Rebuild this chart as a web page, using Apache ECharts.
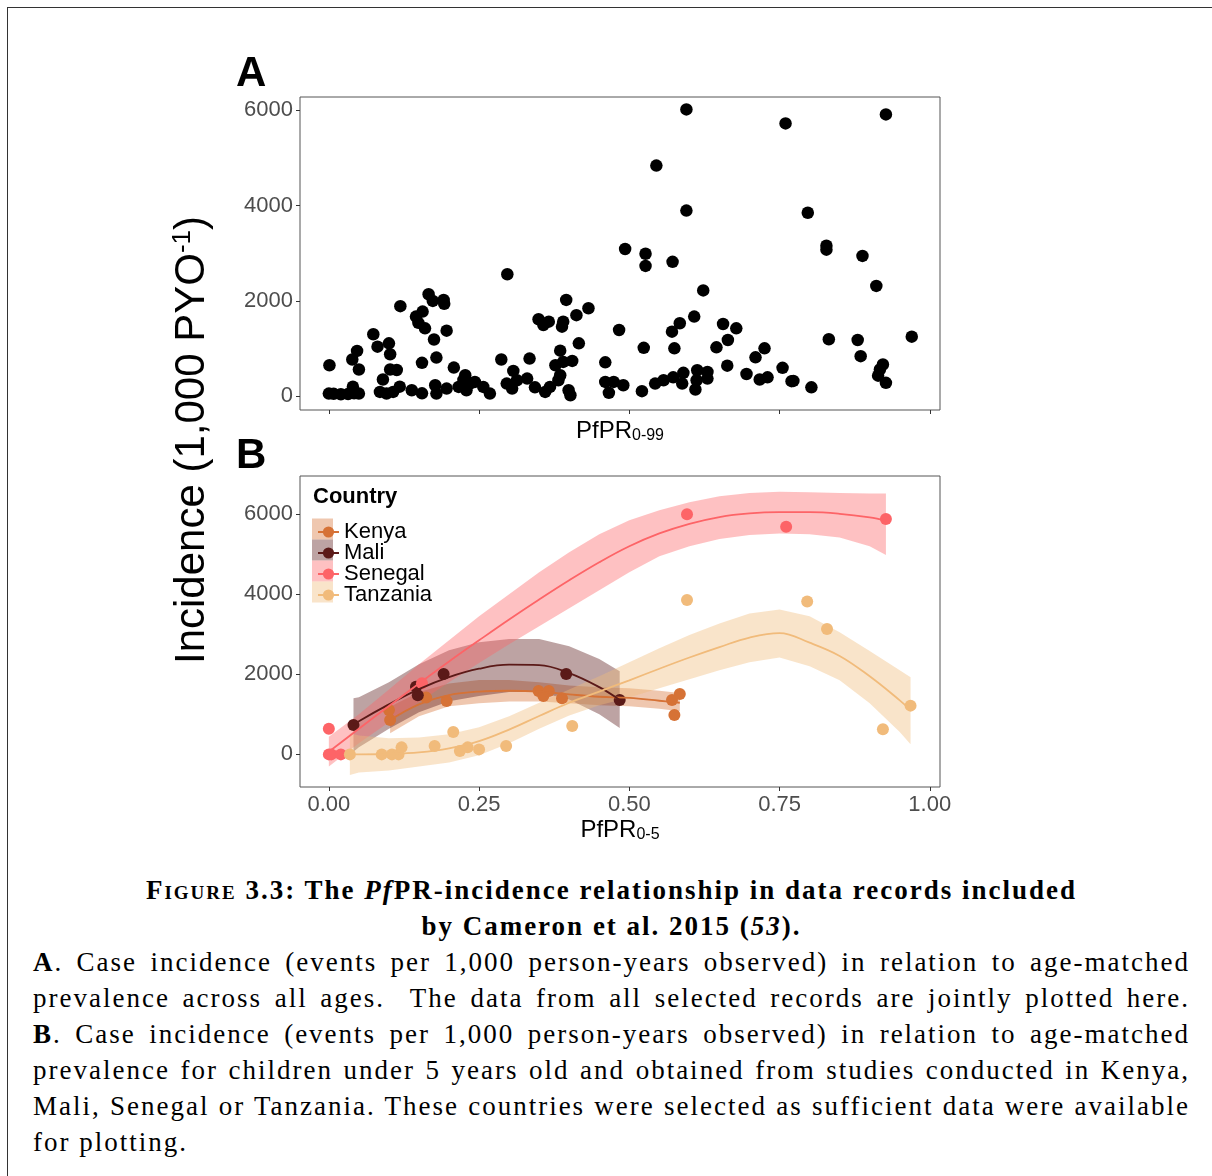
<!DOCTYPE html>
<html lang="en">
<head>
<meta charset="utf-8">
<style>
  body { margin: 0; width: 1212px; height: 1176px; overflow: hidden; background: #fff; position: relative; }
  #frame { position: absolute; left: 7px; top: 7px; width: 1300px; height: 1300px; border: 1px solid #333; }
  #container { position: absolute; left: 0; top: 0; width: 1212px; height: 870px; }
  #caption { position: absolute; left: 33px; top: 872px; width: 1157px; font-family: 'Liberation Serif', serif; font-size: 27px; line-height: 36px; letter-spacing: 2px; color: #000; }
  .head { text-align: center; font-weight: bold; }
  .jl { text-align: justify; text-align-last: justify; }
</style>
</head>
<body>
<div id="frame"></div>
<div id="container"></div>
<div id="caption">
  <div class="head"><span style="font-variant: small-caps">Figure</span> 3.3: The <i>Pf</i>PR-incidence relationship in data records included</div>
  <div class="head">by Cameron et al. 2015 (<i>53</i>).</div>
  <div class="jl"><b>A</b>. Case incidence (events per 1,000 person-years observed) in relation to age-matched</div>
  <div class="jl">prevalence across all ages.&nbsp; The data from all selected records are jointly plotted here.</div>
  <div class="jl"><b>B</b>. Case incidence (events per 1,000 person-years observed) in relation to age-matched</div>
  <div class="jl">prevalence for children under 5 years old and obtained from studies conducted in Kenya,</div>
  <div class="jl">Mali, Senegal or Tanzania. These countries were selected as sufficient data were available</div>
  <div>for plotting.</div>
</div>

<script src="https://cdn.jsdelivr.net/npm/echarts@6/dist/echarts.min.js"></script>
<script>
// ---- panel A: all records, PfPR 0-99 vs incidence ----
var allPrev = [0.000, 0.008, 0.020, 0.032, 0.042, 0.050, 0.040, 0.001, 0.047, 0.039, 0.050,
  0.074, 0.081, 0.100, 0.102, 0.102, 0.113, 0.090, 0.085, 0.096, 0.107, 0.118, 0.119,
  0.138, 0.155, 0.155, 0.145, 0.149, 0.156, 0.160, 0.166, 0.173, 0.191, 0.192, 0.196, 0.175, 0.179, 0.177, 0.179, 0.196,
  0.208, 0.216, 0.224, 0.229, 0.235, 0.227, 0.243, 0.257, 0.268, 0.296, 0.305, 0.313, 0.330, 0.343, 0.360, 0.368,
  0.382, 0.385, 0.399, 0.402, 0.460, 0.474, 0.490, 0.466, 0.287, 0.307, 0.334, 0.377, 0.390, 0.405, 0.460,
  0.385, 0.416, 0.349, 0.357, 0.366, 0.390, 0.388, 0.395, 0.432, 0.412, 0.483, 0.297,
  0.493, 0.527, 0.527, 0.572, 0.545, 0.595, 0.595, 0.623, 0.608, 0.584, 0.571, 0.656, 0.678, 0.664, 0.645,
  0.524, 0.575, 0.725, 0.710, 0.663, 0.755, 0.695, 0.717, 0.730, 0.770, 0.613, 0.630, 0.630, 0.612, 0.610,
  0.590, 0.588, 0.543, 0.557, 0.573, 0.521, 0.760, 0.797, 0.828, 0.828, 0.888, 0.911, 0.927,
  0.832, 0.880, 0.970, 0.885, 0.922, 0.917, 0.914, 0.927, 0.773, 0.803];
var allInc = [55, 50, 40, 45, 60, 55, 200, 650, 950, 770, 560,
  1300, 1040, 1110, 880, 560, 550, 350, 90, 55, 90, 200, 1890,
  125, 60, 700, 1670, 1540, 1775, 1425, 2140, 2000, 2020, 1940, 1375, 1190, 810, 230, 55, 160,
  600, 195, 340, 125, 265, 440, 300, 195, 55, 265, 160, 335, 370, 185, 90, 195,
  335, 440, 125, 20, 300, 300, 230, 70, 770, 530, 790, 650, 720, 740, 710,
  955, 1110, 1615, 1495, 1565, 1565, 1460, 2020, 1845, 1700, 1390, 2560,
  3090, 2990, 2735, 2820, 4840, 6020, 3895, 2220, 1670, 1530, 1355, 1515, 1425, 1180, 1025,
  1015, 1005, 1005, 815, 640, 595, 465, 350, 395, 315, 545, 510, 370, 335, 140,
  490, 265, 265, 335, 395, 105, 5725, 3850, 3160, 3075, 2945, 2315, 5915,
  1195, 1180, 1250, 840, 665, 560, 430, 280, 320, 185];

// ---- panel B: under-5 records by country ----
var countries = ['Kenya', 'Mali', 'Senegal', 'Tanzania'];
var countryColors = ['#D67236', '#5B1A18', '#FD6467', '#F1BB7B'];

var kenyaX = [0.100, 0.102, 0.162, 0.196, 0.349, 0.357, 0.366, 0.388, 0.571, 0.584, 0.575];
var kenyaY = [1108, 858, 1418, 1333, 1583, 1458, 1583, 1400, 1358, 1508, 983];
var maliX = [0.041, 0.145, 0.148, 0.191, 0.395, 0.484];
var maliY = [733, 1690, 1480, 2008, 2008, 1358];
var senegalX = [0.000, 0.000, 0.004, 0.020, 0.155, 0.596, 0.761, 0.927];
var senegalY = [640, 0, 0, 0, 1775, 6000, 5690, 5880];
var tanzaniaX = [0.035, 0.088, 0.105, 0.116, 0.121, 0.176, 0.207, 0.218, 0.231, 0.250, 0.295, 0.405, 0.596, 0.796, 0.829, 0.922, 0.968];
var tanzaniaY = [0, 0, 0, 0, 175, 208, 558, 83, 175, 125, 208, 708, 3858, 3817, 3133, 625, 1218];

// smoothed fits with confidence bands
var kenyaFitX = [0.102, 0.15, 0.2, 0.25, 0.3, 0.35, 0.4, 0.45, 0.5, 0.55, 0.584];
var kenyaFit = [858, 1250, 1480, 1570, 1590, 1570, 1500, 1440, 1410, 1340, 1290];
var kenyaLo = [525, 950, 1200, 1280, 1320, 1320, 1280, 1230, 1200, 1140, 1080];
var kenyaHi = [1190, 1560, 1770, 1860, 1860, 1800, 1720, 1680, 1650, 1590, 1533];

var maliFitX = [0.041, 0.05, 0.1, 0.15, 0.2, 0.25, 0.3, 0.35, 0.4, 0.45, 0.484];
var maliFit = [733, 830, 1250, 1630, 1930, 2140, 2240, 2230, 2030, 1680, 1360];
var maliLo = [65, 180, 640, 1050, 1330, 1460, 1560, 1560, 1370, 1000, 660];
var maliHi = [1400, 1430, 1800, 2250, 2600, 2800, 2880, 2880, 2700, 2380, 2080];

var senegalFitX = [0, 0.05, 0.1, 0.15, 0.2, 0.25, 0.3, 0.35, 0.4, 0.45, 0.5, 0.55, 0.6, 0.65, 0.7, 0.75, 0.8, 0.85, 0.9, 0.927];
var senegalFit = [65, 640, 1210, 1770, 2320, 2850, 3370, 3870, 4350, 4800, 5200, 5520, 5760, 5930, 6020, 6050, 6050, 6010, 5920, 5840];
var senegalLo = [-300, 280, 800, 1300, 1800, 2280, 2750, 3200, 3650, 4100, 4550, 4950, 5200, 5380, 5480, 5520, 5500, 5420, 5200, 4980];
var senegalHi = [440, 1000, 1620, 2250, 2850, 3450, 4000, 4550, 5050, 5500, 5850, 6100, 6300, 6450, 6530, 6560, 6550, 6530, 6520, 6520];

var tanzaniaFitX = [0.035, 0.05, 0.1, 0.15, 0.2, 0.25, 0.3, 0.35, 0.4, 0.45, 0.5, 0.55, 0.6, 0.65, 0.7, 0.75, 0.8, 0.85, 0.9, 0.95, 0.968];
var tanzaniaFit = [0, 0, 10, 50, 150, 330, 620, 960, 1290, 1570, 1850, 2140, 2420, 2680, 2920, 3030, 2790, 2460, 1950, 1350, 1110];
var tanzaniaLo = [-518, -450, -400, -300, -200, -20, 280, 640, 970, 1230, 1420, 1650, 1880, 2100, 2300, 2420, 2200, 1850, 1280, 560, 250];
var tanzaniaHi = [525, 470, 400, 420, 500, 680, 950, 1290, 1620, 1950, 2300, 2650, 2980, 3270, 3520, 3620, 3450, 3050, 2580, 2100, 1930];

var xTicks = [0, 0.25, 0.5, 0.75, 1];
var yTicks = [0, 2000, 4000, 6000];

var pointsX = [kenyaX, maliX, senegalX, tanzaniaX];
var pointsY = [kenyaY, maliY, senegalY, tanzaniaY];
var fitX = [kenyaFitX, maliFitX, senegalFitX, tanzaniaFitX];
var fitY = [kenyaFit, maliFit, senegalFit, tanzaniaFit];
var fitLo = [kenyaLo, maliLo, senegalLo, tanzaniaLo];
var fitHi = [kenyaHi, maliHi, senegalHi, tanzaniaHi];

var font = "'Liberation Sans', Arial, sans-serif";

function zip(xs, ys) {
  return xs.map(function (x, i) { return [x, ys[i]]; });
}

function xAxisOf(grid, showLabels, name, gap) {
  return {
    gridIndex: grid, type: 'value', min: -0.048, max: 1.017,
    axisLine: { show: false, onZero: false }, splitLine: { show: false },
    axisTick: { show: true, length: 4, lineStyle: { color: '#333' }, customValues: xTicks },
    axisLabel: {
      show: showLabels, customValues: xTicks, margin: 7, color: '#4D4D4D', fontSize: 22, fontFamily: font,
      formatter: function (v) { return v.toFixed(2); }
    },
    name: name, nameLocation: 'middle', nameGap: gap,
    nameTextStyle: {
      rich: {
        a: { fontSize: 24, fontFamily: font, color: '#000', lineHeight: 26 },
        s: { fontSize: 16, fontFamily: font, color: '#000', lineHeight: 6, verticalAlign: 'bottom' }
      }
    }
  };
}

function yAxisOf(grid, min, max) {
  return {
    gridIndex: grid, type: 'value', min: min, max: max,
    axisLine: { show: false, onZero: false }, splitLine: { show: false },
    axisTick: { show: true, length: 4, lineStyle: { color: '#333' }, customValues: yTicks },
    axisLabel: {
      customValues: yTicks, margin: 7, color: '#4D4D4D', fontSize: 22, fontFamily: font,
      formatter: function (v) { return String(v); }
    }
  };
}

var series = [{
  type: 'scatter', name: 'all records', xAxisIndex: 0, yAxisIndex: 0,
  data: zip(allPrev, allInc), symbolSize: 12.5, itemStyle: { color: '#000', opacity: 1 }, silent: true
}];

countries.forEach(function (c, k) {
  series.push({
    type: 'scatter', name: c + ' records', xAxisIndex: 1, yAxisIndex: 1,
    data: zip(pointsX[k], pointsY[k]), symbolSize: 12, itemStyle: { color: countryColors[k], opacity: 1 }, silent: true
  });
});

countries.forEach(function (c, k) {
  var xs = fitX[k], lo = fitLo[k], hi = fitHi[k];
  series.push({
    type: 'custom', name: c + ' band', xAxisIndex: 1, yAxisIndex: 1, silent: true,
    data: xs.map(function (x, i) { return [x, lo[i], hi[i]]; }),
    encode: { x: 0, y: [1, 2] },
    renderItem: function (params, api) {
      if (params.dataIndex !== 0) return;
      var upper = xs.map(function (x, i) { return api.coord([x, hi[i]]); });
      var lower = xs.map(function (x, i) { return api.coord([x, lo[i]]); }).reverse();
      return {
        type: 'polygon', shape: { points: upper.concat(lower) },
        style: { fill: countryColors[k], opacity: 0.4 }
      };
    }
  });
  series.push({
    type: 'line', name: c, xAxisIndex: 1, yAxisIndex: 1, silent: true,
    data: zip(xs, fitY[k]), smooth: 0.4, showSymbol: false, symbol: 'circle', symbolSize: 12,
    itemStyle: { color: countryColors[k] },
    lineStyle: { color: countryColors[k], width: 1.8 }
  });
});

var graphic = [
  {
    type: 'text', x: 192, y: 440, rotation: Math.PI / 2,
    style: {
      text: '{a|Incidence (1,000 PYO}{s|-1}{a|)}', align: 'center', verticalAlign: 'middle',
      rich: {
        a: { fontSize: 42, fontFamily: font, fill: '#000', lineHeight: 44 },
        s: { fontSize: 26, fontFamily: font, fill: '#000', lineHeight: 12, verticalAlign: 'top' }
      }
    }
  },
  { type: 'text', x: 236, y: 74, style: { text: 'A', font: 'bold 42px ' + font, fill: '#000', verticalAlign: 'middle' } },
  { type: 'text', x: 236, y: 456, style: { text: 'B', font: 'bold 42px ' + font, fill: '#000', verticalAlign: 'middle' } },
  { type: 'text', x: 313, y: 497, style: { text: 'Country', font: 'bold 22px ' + font, fill: '#000', verticalAlign: 'middle' } }
];
countries.forEach(function (c, k) {
  graphic.push({
    type: 'rect', shape: { x: 312, y: 518.5 + 21 * k, width: 21, height: 21 },
    style: { fill: countryColors[k], opacity: 0.4 }, z: -1
  });
});

var option = {
  animation: false,
  grid: [
    { left: 300, top: 97, width: 640, height: 313, show: true, borderColor: '#555', borderWidth: 1, backgroundColor: 'transparent', outerBoundsMode: 'none' },
    { left: 300, top: 476, width: 640, height: 311, show: true, borderColor: '#555', borderWidth: 1, backgroundColor: 'transparent', outerBoundsMode: 'none' }
  ],
  xAxis: [
    xAxisOf(0, false, '{a|PfPR}{s|0-99}', 8),
    xAxisOf(1, true, '{a|PfPR}{s|0-5}', 30)
  ],
  yAxis: [
    yAxisOf(0, -290, 6280),
    yAxisOf(1, -815, 6955)
  ],
  legend: {
    orient: 'vertical', left: 312, top: 516, itemWidth: 21, itemHeight: 14, itemGap: -1,
    data: countries, selectedMode: false,
    textStyle: { fontSize: 22, fontFamily: font, color: '#000', lineHeight: 18, padding: [0, 0, 0, 0] }
  },
  graphic: graphic,
  series: series
};

var chart = echarts.init(document.getElementById('container'), null, { renderer: 'canvas' });
chart.setOption(option);
</script>
</body>
</html>
